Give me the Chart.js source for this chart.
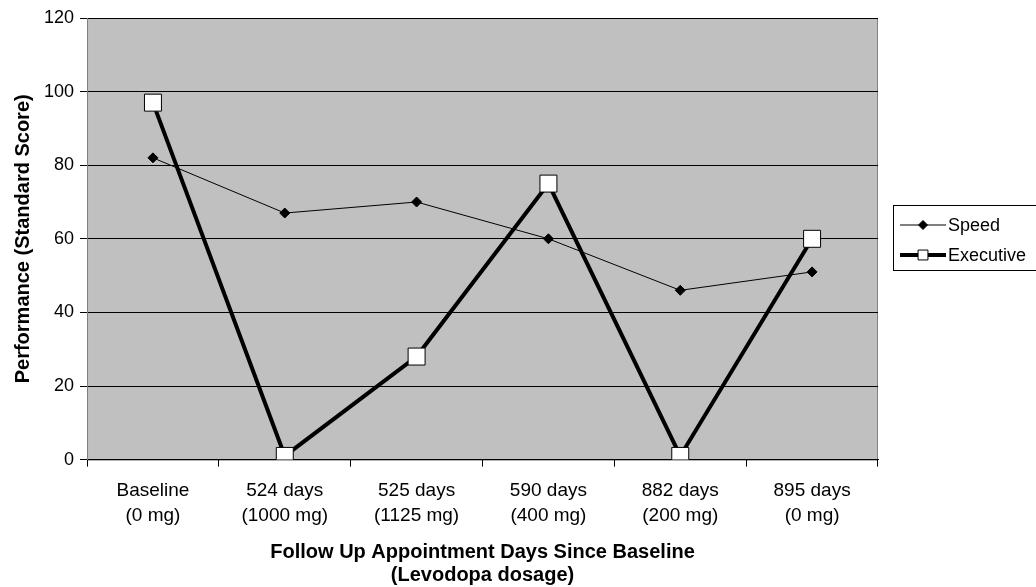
<!DOCTYPE html>
<html>
<head>
<meta charset="utf-8">
<script src="https://cdn.jsdelivr.net/npm/chart.js@4"></script>
<style>
  body { margin: 0; background: #fff; }
  #wrap { width: 1036px; height: 587px; }
</style>
</head>
<body>
<div id="wrap"><canvas id="chart"></canvas></div>
<script>
const categories = [
  ['Baseline', '(0 mg)'],
  ['524 days', '(1000 mg)'],
  ['525 days', '(1125 mg)'],
  ['590 days', '(400 mg)'],
  ['882 days', '(200 mg)'],
  ['895 days', '(0 mg)']
];
const speed = [82, 67, 70, 60, 46, 51];
const executive = [97, 1, 28, 75, 1, 60];
const yTicks = [0, 20, 40, 60, 80, 100, 120];

const font = 'Liberation Sans, Arial, sans-serif';

// grey plot area like the old excel charts
const plotBg = {
  id: 'plotBg',
  beforeDraw(chart) {
    const a = chart.chartArea, ctx = chart.ctx;
    ctx.save();
    ctx.fillStyle = '#c0c0c0';
    ctx.fillRect(a.left, a.top, a.right - a.left, a.bottom - a.top);
    ctx.strokeStyle = '#808080';
    ctx.lineWidth = 1;
    ctx.strokeRect(a.left + 0.5, a.top + 0.5, a.right - a.left - 1, a.bottom - a.top);
    ctx.restore();
  }
};

// boxed legend with line + marker samples
const boxLegend = {
  id: 'boxLegend',
  afterDraw(chart) {
    const ctx = chart.ctx;
    const x0 = 893, y0 = 205;
    ctx.save();
    ctx.strokeStyle = '#000';
    ctx.lineWidth = 1;
    ctx.strokeRect(x0 + 0.5, y0 + 0.5, 160, 65);
    ctx.font = '18px ' + font;
    ctx.textBaseline = 'middle';
    chart.data.datasets.forEach((ds, i) => {
      const y = y0 + 20 + i * 30;
      ctx.strokeStyle = ds.borderColor;
      ctx.lineWidth = ds.borderWidth;
      ctx.beginPath();
      ctx.moveTo(x0 + 7, y);
      ctx.lineTo(x0 + 53, y);
      ctx.stroke();
      ctx.fillStyle = ds.pointBackgroundColor;
      ctx.strokeStyle = ds.pointBorderColor;
      ctx.lineWidth = 1;
      Chart.helpers.drawPoint(ctx, {
        pointStyle: ds.pointStyle,
        rotation: 0,
        radius: i === 0 ? 4.5 : 7,
        borderWidth: 1
      }, x0 + 30, y);
      ctx.fillStyle = '#000';
      ctx.fillText(ds.label, x0 + 55, y + 1);
    });
    ctx.restore();
  }
};

new Chart(document.getElementById('chart'), {
  type: 'line',
  data: {
    labels: categories,
    datasets: [
      {
        label: 'Speed',
        data: speed,
        borderColor: '#000',
        borderWidth: 1,
        pointStyle: 'rectRot',
        pointRadius: 5,
        pointBackgroundColor: '#000',
        pointBorderColor: '#000',
        tension: 0
      },
      {
        label: 'Executive',
        data: executive,
        borderColor: '#000',
        borderWidth: 4,
        pointStyle: 'rect',
        pointRadius: 12,
        pointBackgroundColor: '#fff',
        pointBorderColor: '#000',
        pointBorderWidth: 1,
        tension: 0
      }
    ]
  },
  options: {
    responsive: true,
    maintainAspectRatio: false,
    animation: false,
    layout: { padding: { top: 18, right: 158, bottom: 0, left: 7 } },
    plugins: {
      legend: { display: false },
      tooltip: { enabled: false }
    },
    scales: {
      x: {
        offset: true,
        grid: {
          offset: true,
          drawOnChartArea: false,
          drawTicks: true,
          tickLength: 7,
          color: '#000'
        },
        border: { color: '#000' },
        ticks: {
          color: '#000',
          font: { family: font, size: 19, lineHeight: 1.3 },
          padding: 12,
          maxRotation: 0
        },
        title: {
          display: true,
          text: ['Follow Up Appointment Days Since Baseline', '(Levodopa dosage)'],
          color: '#000',
          font: { family: font, size: 20, weight: 'bold', lineHeight: 1.15 },
          padding: { top: 1, bottom: 0 }
        }
      },
      y: {
        min: 0,
        max: 120,
        afterBuildTicks(axis) { axis.ticks = yTicks.map(v => ({ value: v })); },
        grid: { color: '#000', tickLength: 7 },
        border: { color: '#808080' },
        ticks: { color: '#000', font: { family: font, size: 18 }, padding: 6 },
        title: {
          display: true,
          text: 'Performance (Standard Score)',
          color: '#000',
          font: { family: font, size: 20, weight: 'bold' },
          padding: { top: 4, bottom: 3 }
        }
      }
    }
  },
  plugins: [plotBg, boxLegend]
});
</script>
</body>
</html>
